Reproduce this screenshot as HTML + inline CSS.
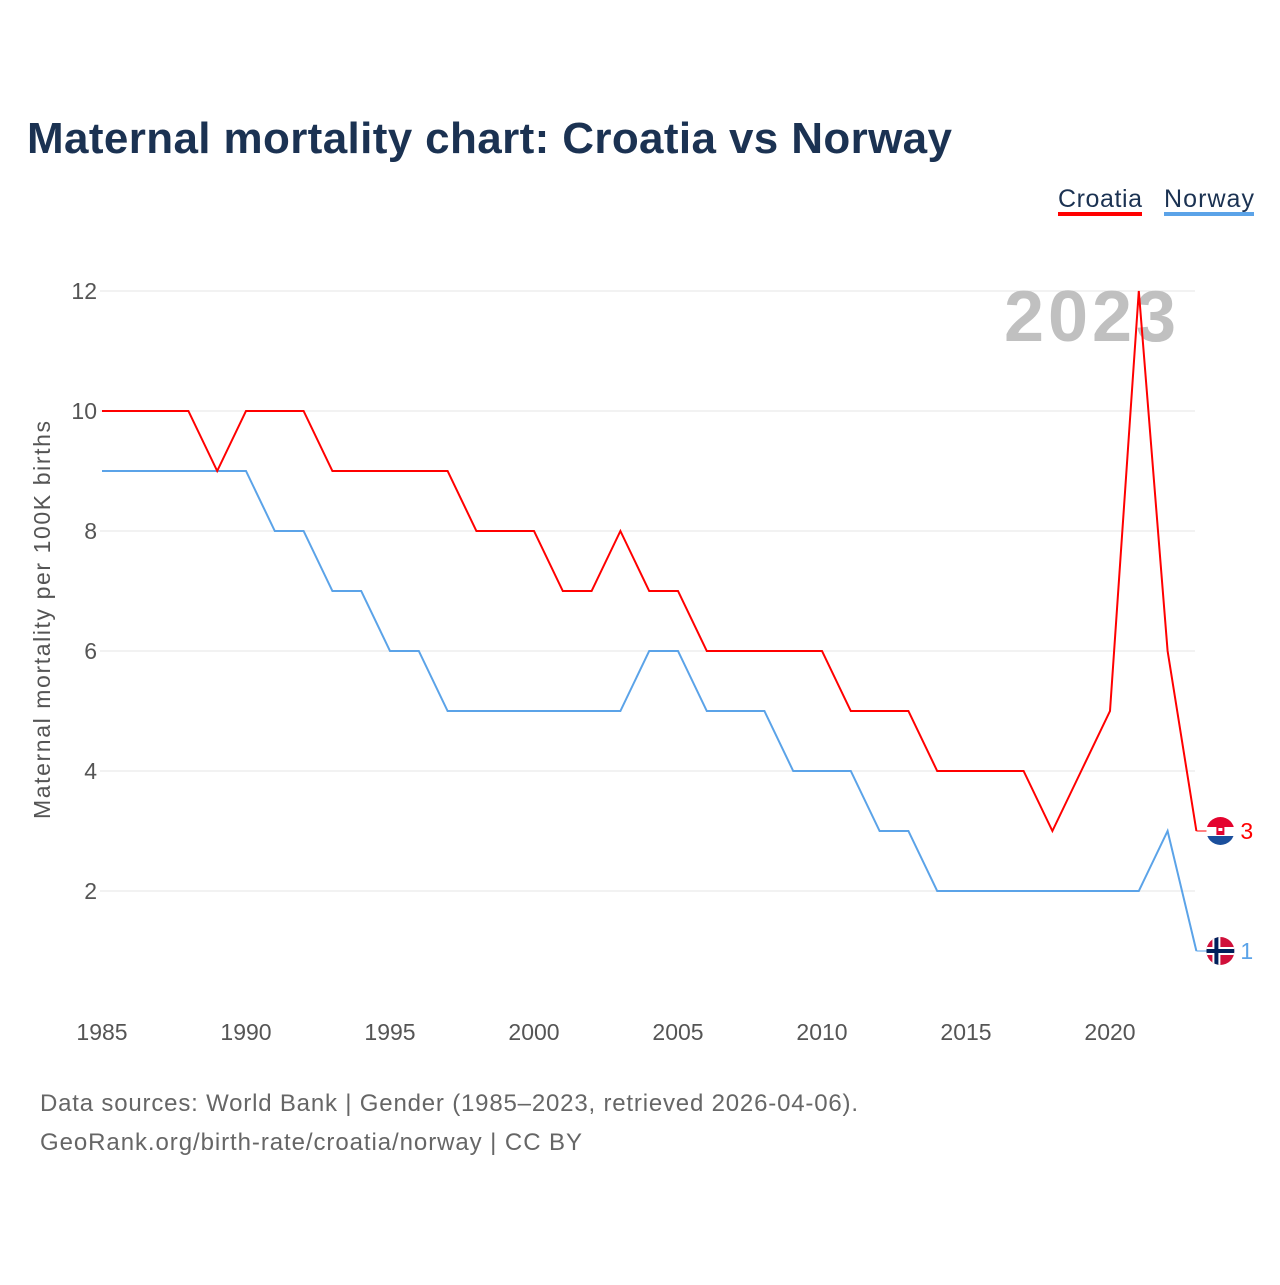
<!DOCTYPE html>
<html><head><meta charset="utf-8"><style>
body{margin:0;background:#fff;font-family:"Liberation Sans",sans-serif}
</style></head><body>
<svg width="1280" height="1280" xmlns="http://www.w3.org/2000/svg">
<text x="27" y="153" font-size="44" font-weight="bold" fill="#1b3252" textLength="925">Maternal mortality chart: Croatia vs Norway</text>
<g>
<text x="1058" y="207" font-size="25" fill="#1b3252" textLength="84">Croatia</text>
<rect x="1058" y="212" width="84" height="4" fill="#ff0000"/>
<text x="1164" y="207" font-size="25" fill="#1b3252" textLength="90">Norway</text>
<rect x="1164" y="212" width="90" height="4" fill="#5ba3e8"/>
</g>
<g id="grid"></g>
<text x="1090" y="341" font-size="72" font-weight="bold" fill="#c0c0c0" text-anchor="middle" textLength="172">2023</text>
<text transform="translate(50,620) rotate(-90)" font-size="23" fill="#555" text-anchor="middle" textLength="398">Maternal mortality per 100K births</text>
<g id="series"></g>
<text x="40" y="1111" font-size="24" fill="#666" textLength="818">Data sources: World Bank | Gender (1985–2023, retrieved 2026-04-06).</text>
<text x="40" y="1150" font-size="24" fill="#666" textLength="542">GeoRank.org/birth-rate/croatia/norway | CC BY</text>
</svg>
<script>
const years=[];for(let y=1985;y<=2023;y++)years.push(y);
const croatia=[10,10,10,10,9,10,10,10,9,9,9,9,9,8,8,8,7,7,8,7,7,6,6,6,6,6,5,5,5,4,4,4,4,3,4,5,12,6,3];
const norway=[9,9,9,9,9,9,8,8,7,7,6,6,5,5,5,5,5,5,5,6,6,5,5,5,4,4,4,3,3,2,2,2,2,2,2,2,2,3,1];
const yTicks=[2,4,6,8,10,12];
const xTicks=[1985,1990,1995,2000,2005,2010,2015,2020];
const X=y=>102+(y-1985)*28.8, Y=v=>1011-v*60;
const NS='http://www.w3.org/2000/svg';
function mk(p,t,a){const e=document.createElementNS(NS,t);for(const k in a)e.setAttribute(k,a[k]);p.appendChild(e);return e;}
const g=document.getElementById('grid');
yTicks.forEach(v=>{
 const l=mk(g,'line',{x1:100,x2:1195,y1:Y(v),y2:Y(v),stroke:'#e6e6e6'});
 
 
 const t=mk(g,'text',{x:97,y:Y(v)+8,'font-size':23,fill:'#555','text-anchor':'end'});t.textContent=v;
 
 
});
xTicks.forEach(v=>{
 const t=mk(g,'text',{x:X(v),y:1040,'font-size':23,fill:'#555','text-anchor':'middle'});t.textContent=v;
 
 
});
const s=document.getElementById('series');
function draw(data,color,name,flag){
 const pts=data.map((v,i)=>X(years[i])+','+Y(v)).join(' ');
 const p=mk(s,'polyline',{points:pts,fill:'none',stroke:color,'stroke-width':2});
 
 
 const lx=X(years[years.length-1]),ly=Y(data[data.length-1]);
 mk(s,'line',{x1:lx,x2:lx+24,y1:ly,y2:ly,stroke:color,'stroke-width':1});
 const fg=mk(s,'g',{});
 
 
 const cx=lx+24;
 const cp=mk(fg,'clipPath',{id:'c'+name});mk(cp,'circle',{cx:cx,cy:ly,r:14});
 const gg=mk(fg,'g',{'clip-path':'url(#c'+name+')'});
 if(flag==='hr'){
  mk(gg,'rect',{x:cx-14,y:ly-14,width:28,height:10,fill:'#e4032e'});
  mk(gg,'rect',{x:cx-14,y:ly-4,width:28,height:9,fill:'#fff'});
  mk(gg,'rect',{x:cx-14,y:ly+5,width:28,height:10,fill:'#1b4f9c'});
  mk(gg,'rect',{x:cx-4,y:ly-5,width:8,height:9,fill:'#e4032e'});
  mk(gg,'rect',{x:cx-2,y:ly-3,width:4,height:3,fill:'#fff'});
 }else{
  mk(gg,'rect',{x:cx-14,y:ly-14,width:28,height:28,fill:'#d0103a'});
  mk(gg,'rect',{x:cx-14,y:ly-4,width:28,height:8,fill:'#fff'});
  mk(gg,'rect',{x:cx-8,y:ly-14,width:8,height:28,fill:'#fff'});
  mk(gg,'rect',{x:cx-14,y:ly-2,width:28,height:4,fill:'#00205b'});
  mk(gg,'rect',{x:cx-6,y:ly-14,width:4,height:28,fill:'#00205b'});
 }
 const t=mk(s,'text',{x:cx+20,y:ly+8,'font-size':23,fill:color});t.textContent=data[data.length-1];
 
 
}
draw(norway,'#5ba3e8','norway','no');
draw(croatia,'#ff0000','croatia','hr');
</script>
</body></html>
